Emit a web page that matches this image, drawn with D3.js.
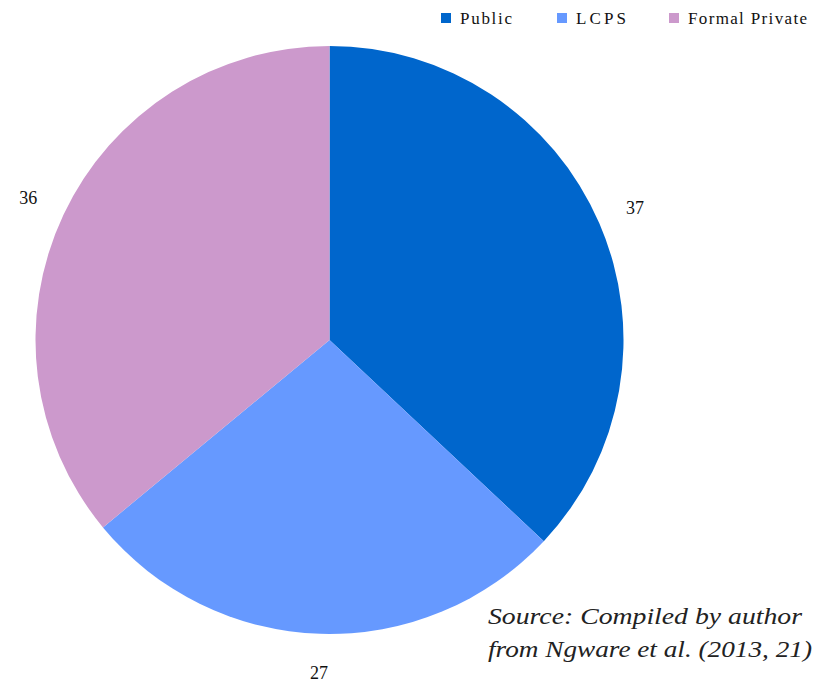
<!DOCTYPE html>
<html><head><meta charset="utf-8">
<script src="https://cdn.jsdelivr.net/npm/d3@7"></script>
<style>body{margin:0;background:#fff}svg{display:block}
.serif{font-family:"Liberation Serif","Times New Roman",Times,"DejaVu Serif",serif;}</style>
</head><body>
<script>
const categories = ["Public", "LCPS", "Formal Private"];
const values = [37, 27, 36];
const colors = ["#0066CC", "#6699FF", "#CC99CC"];

const W = 816, H = 683;
const svg = d3.select("body").append("svg").attr("width", W).attr("height", H);
const cx = 329.5, cy = 340, R = 294, LR = 333;

const pie = d3.pie().sort(null).value(d => d.v);
const data = pie(categories.map((c, i) => ({c, v: values[i], col: colors[i]})));
const arc = d3.arc().innerRadius(0).outerRadius(R);
const labelArc = d3.arc().innerRadius(LR).outerRadius(LR);

const g = svg.append("g").attr("transform", `translate(${cx},${cy})`);
g.selectAll("path").data(data).enter().append("path")
  .attr("d", arc).attr("fill", d => d.data.col);

g.selectAll("text.val").data(data).enter().append("text")
  .attr("class", "val serif")
  .attr("transform", d => { const [x, y] = labelArc.centroid(d); return `translate(${x},${y + 6})`; })
  .attr("text-anchor", "middle")
  .style("font-size", "18px")
  .attr("fill", "#111")
  .text(d => d.data.v);

// legend
const legX = [441, 557, 669];
const legW = [52, 50, 119];
const lg = svg.append("g");
categories.forEach((c, i) => {
  lg.append("rect").attr("x", legX[i]).attr("y", 13).attr("width", 10).attr("height", 10)
    .attr("fill", colors[i]);
  lg.append("text").attr("class", "serif").attr("x", legX[i] + 19).attr("y", 24)
    .style("font-size", "17px")
    .attr("textLength", legW[i]).attr("lengthAdjust", "spacing")
    .attr("fill", "#111")
    .text(c);
});

// source note
const src = svg.append("text").attr("class", "serif")
  .style("font-size", "23px")
  .style("font-style", "italic").attr("fill", "#222");
src.append("tspan").attr("x", 488).attr("y", 624).attr("textLength", 314).attr("lengthAdjust", "spacingAndGlyphs").text("Source: Compiled by author");
src.append("tspan").attr("x", 488).attr("y", 657).attr("textLength", 324).attr("lengthAdjust", "spacingAndGlyphs").text("from Ngware et al. (2013, 21)");
</script>
</body></html>
